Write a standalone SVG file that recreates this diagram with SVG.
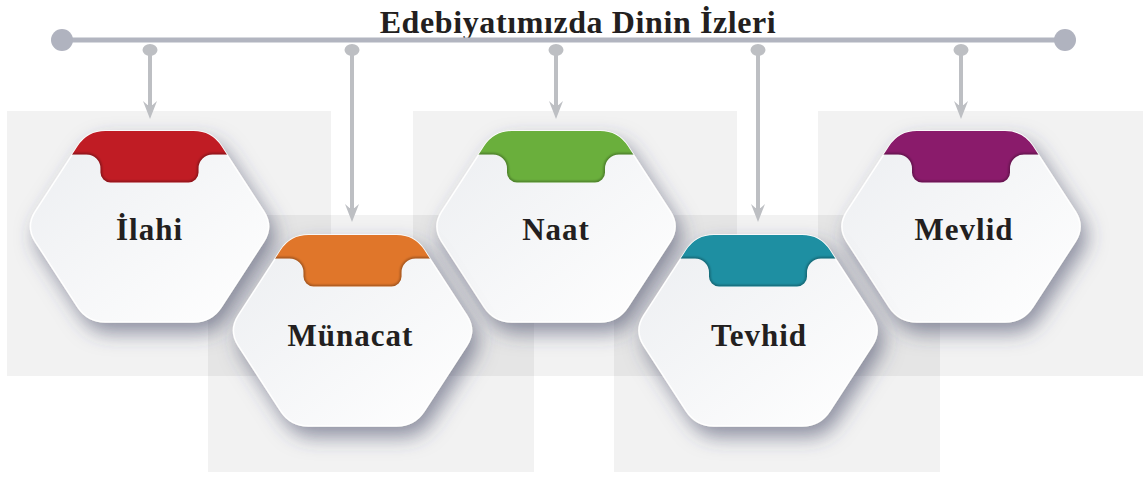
<svg xmlns="http://www.w3.org/2000/svg" width="1144" height="478" viewBox="0 0 1144 478">
  <style>
    .sq { fill: #000; fill-opacity: 0.05; }
    .body { fill: url(#bodyGrad); stroke: #ffffff; stroke-width: 1.5; filter: url(#hexShadow); }
    .edge { fill: none; stroke: #000; stroke-opacity: 0.3; stroke-width: 3; filter: url(#soft); }
    .lbl { font-family: "Liberation Serif", "Times New Roman", serif; font-weight: bold; font-size: 31px; letter-spacing: 1px; fill: #231f20; text-anchor: middle; }
    .title { font-family: "Liberation Serif", "Times New Roman", serif; font-weight: bold; font-size: 32px; letter-spacing: 0.6px; fill: #231f20; text-anchor: middle; }
    .bar { stroke: #b2b5c0; stroke-width: 5; fill: none; }
    .end { fill: #b0b3bf; }
    .dot { fill: #bdbfc3; }
    .arr { stroke: #bdbfc3; stroke-width: 4; fill: none; marker-end: url(#head); }
  </style>
  <defs>
    <linearGradient id="bodyGrad" x1="0" y1="0" x2="1" y2="1">
      <stop offset="0" stop-color="#eceef1"/>
      <stop offset="1" stop-color="#ffffff"/>
    </linearGradient>
    <filter id="hexShadow" x="-30%" y="-30%" width="170%" height="180%">
      <feDropShadow dx="6" dy="10" stdDeviation="10" flood-color="#3a4060" flood-opacity="0.55"/>
    </filter>
    <filter id="soft" x="-20%" y="-50%" width="140%" height="200%">
      <feGaussianBlur stdDeviation="1.2"/>
    </filter>
    <path id="hex" d="M -114.2 15.1 Q -124 0 -114.2 -15.1 L -71.8 -80.4 Q -62 -95.5 -44 -95.5 L 44 -95.5 Q 62 -95.5 71.8 -80.4 L 114.2 -15.1 Q 124 0 114.2 15.1 L 71.8 80.4 Q 62 95.5 44 95.5 L -44 95.5 Q -62 95.5 -71.8 80.4 Z"/>
    <path id="cap" d="M -130 -100 H 130 V -72 H 63 A 14 14 0 0 0 49 -58 V -54 A 10 10 0 0 1 39 -44 H -39 A 10 10 0 0 1 -49 -54 V -58 A 14 14 0 0 0 -63 -72 H -130 Z"/>
    <path id="capEdge" d="M 95 -72 H 63 A 14 14 0 0 0 49 -58 V -54 A 10 10 0 0 1 39 -44 H -39 A 10 10 0 0 1 -49 -54 V -58 A 14 14 0 0 0 -63 -72 H -95"/>
    <clipPath id="hexClip" clipPathUnits="userSpaceOnUse">
      <use href="#hex"/>
    </clipPath>
    <clipPath id="capClip" clipPathUnits="userSpaceOnUse">
      <use href="#cap"/>
    </clipPath>
    <marker id="head" markerUnits="userSpaceOnUse" viewBox="0 -8 20 16" markerWidth="20" markerHeight="16" refX="8" refY="0" orient="auto">
      <path d="M 18 0 L 0 -7 L 4 -2.5 L 4 2.5 L 0 7 Z" fill="#bdbfc3"/>
    </marker>
  </defs>

  <g id="backdrops">
    <rect class="sq" x="7" y="111" width="324" height="265"/>
    <rect class="sq" x="413" y="111" width="324" height="265"/>
    <rect class="sq" x="818" y="111" width="325" height="265"/>
    <rect class="sq" x="208" y="215" width="326" height="257"/>
    <rect class="sq" x="614" y="215" width="326" height="257"/>
  </g>

  <g id="title">
    <text class="title" x="578" y="33">Edebiyatımızda Dinin İzleri</text>
  </g>

  <g id="connectors">
    <line class="bar" x1="62" y1="40" x2="1065" y2="40"/>
    <circle class="end" cx="62" cy="40" r="11"/>
    <circle class="end" cx="1065" cy="40" r="11"/>
    <line class="arr" x1="150" y1="50" x2="150" y2="109"/>
    <line class="arr" x1="352" y1="50" x2="352" y2="212"/>
    <line class="arr" x1="556" y1="50" x2="556" y2="109"/>
    <line class="arr" x1="758" y1="50" x2="758" y2="212"/>
    <line class="arr" x1="961" y1="50" x2="961" y2="109"/>
    <ellipse class="dot" cx="150" cy="50" rx="7.5" ry="6"/>
    <ellipse class="dot" cx="352" cy="50" rx="7.5" ry="6"/>
    <ellipse class="dot" cx="556" cy="50" rx="7.5" ry="6"/>
    <ellipse class="dot" cx="758" cy="50" rx="7.5" ry="6"/>
    <ellipse class="dot" cx="961" cy="50" rx="7.5" ry="6"/>
  </g>

  <g id="node-ilahi" transform="translate(149.5 226.5)">
    <use href="#hex" class="body"/>
    <g clip-path="url(#hexClip)">
      <use href="#cap" fill="#c01c24"/>
      <g clip-path="url(#capClip)"><use href="#capEdge" class="edge"/></g>
    </g>
    <text class="lbl" x="0" y="13.5">İlahi</text>
  </g>

  <g id="node-naat" transform="translate(556 226.5)">
    <use href="#hex" class="body"/>
    <g clip-path="url(#hexClip)">
      <use href="#cap" fill="#6aaf3c"/>
      <g clip-path="url(#capClip)"><use href="#capEdge" class="edge"/></g>
    </g>
    <text class="lbl" x="0" y="13.5">Naat</text>
  </g>

  <g id="node-mevlid" transform="translate(961 226.5)">
    <use href="#hex" class="body"/>
    <g clip-path="url(#hexClip)">
      <use href="#cap" fill="#8a1b6b"/>
      <g clip-path="url(#capClip)"><use href="#capEdge" class="edge"/></g>
    </g>
    <text class="lbl" x="3" y="13.5">Mevlid</text>
  </g>

  <g id="node-munacat" transform="translate(352.5 330.5)">
    <use href="#hex" class="body"/>
    <g clip-path="url(#hexClip)">
      <use href="#cap" fill="#e0762a"/>
      <g clip-path="url(#capClip)"><use href="#capEdge" class="edge"/></g>
    </g>
    <text class="lbl" x="-2" y="15">Münacat</text>
  </g>

  <g id="node-tevhid" transform="translate(758 330.5)">
    <use href="#hex" class="body"/>
    <g clip-path="url(#hexClip)">
      <use href="#cap" fill="#1e8fa2"/>
      <g clip-path="url(#capClip)"><use href="#capEdge" class="edge"/></g>
    </g>
    <text class="lbl" x="1" y="15">Tevhid</text>
  </g>
</svg>
